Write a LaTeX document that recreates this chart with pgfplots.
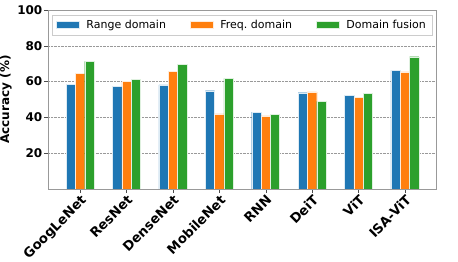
\documentclass[border=0pt]{standalone}
\usepackage{pgfplots}
\pgfplotsset{compat=1.18}
\usepackage{fontspec}
\setmainfont{DejaVu Sans}
\definecolor{tabblue}{HTML}{1F77B4}
\definecolor{taborange}{HTML}{FF7F0E}
\definecolor{tabgreen}{HTML}{2CA02C}
\begin{document}
\begin{tikzpicture}
\useasboundingbox (-48pt,-73pt) rectangle (410pt,189pt);
\begin{axis}[
  at={(0,0)}, anchor=south west,
  scale only axis, width=388pt, height=179pt,
  xmin=-0.69, xmax=7.67, ymin=0, ymax=100,
  ybar=0pt, bar width=0.2,
  xtick={0,...,7},
  xticklabels={GoogLeNet,ResNet,DenseNet,MobileNet,RNN,DeiT,ViT,ISA-ViT},
  xticklabel style={rotate=45, anchor=north east, inner sep=1pt, font=\bfseries\fontsize{13.2}{13.2}\selectfont},
  ytick={20,40,60,80,100},
  yticklabel style={font=\bfseries\fontsize{12}{12}\selectfont, inner sep=2pt},
  /pgf/number format/assume math mode=true,
  ylabel={Accuracy (\%)},
  ylabel style={font=\bfseries\fontsize{12}{12}\selectfont},
  ymajorgrids, grid style={densely dotted, gray!80, line width=0.5pt},
  axis line style={gray!80},
  tick pos=left, tick align=outside, major tick length=3.5pt,
  tick style={black!70},
  legend columns=3,
  legend cell align=left,
  legend style={at={(0.5,0.972)}, anchor=north, draw=gray!40,
    font=\fontsize{11}{11}\selectfont, inner xsep=4pt, inner ysep=3pt,
    /tikz/every odd column/.append style={column sep=5pt},
    /tikz/every even column/.append style={column sep=22pt}},
  legend image code/.code={\fill[#1, sharp corners] (0pt,-3.5pt) rectangle (23pt,4pt);},
]
\addplot[fill=tabblue, draw=white!85!tabblue, line width=0.3pt] coordinates {(0,58.5) (1,57.4) (2,58.1) (3,54.9) (4,43.0) (5,53.8) (6,52.3) (7,66.3)};
\addplot[fill=taborange, draw=white!85!taborange, line width=0.3pt] coordinates {(0,64.8) (1,60.2) (2,65.9) (3,41.9) (4,40.8) (5,54.2) (6,51.2) (7,65.5)};
\addplot[fill=tabgreen, draw=white!85!tabgreen, line width=0.3pt] coordinates {(0,71.3) (1,61.3) (2,69.7) (3,61.8) (4,41.7) (5,49.0) (6,53.6) (7,73.9)};
\legend{Range domain, Freq.\ domain, Domain fusion}
\end{axis}
\end{tikzpicture}
\end{document}
